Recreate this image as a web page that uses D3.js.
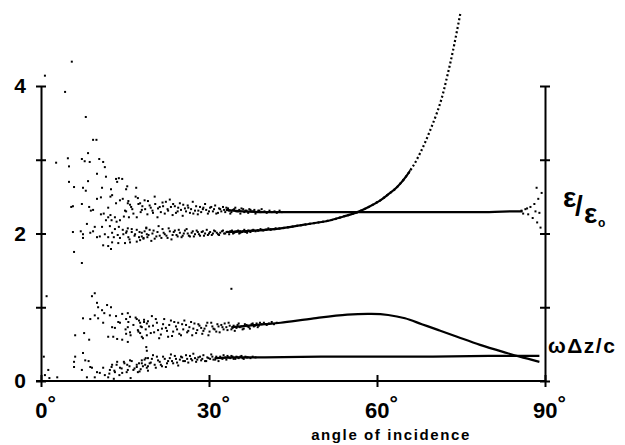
<!DOCTYPE html>
<html>
<head>
<meta charset="utf-8">
<script src="https://cdn.jsdelivr.net/npm/d3@7"></script>
<style>
  body { margin: 0; background: #fff; }
  svg { display: block; }
  text { font-family: "Liberation Sans", Arial, Helvetica, sans-serif; font-weight: bold; fill: #000; }
</style>
</head>
<body>
<svg id="chart" width="625" height="445"></svg>
<script>
// tick values
const angleTicks = [0, 30, 60, 90];
const valueTicks = [0, 1, 2, 3, 4];
const valueLabels = {0: "0", 2: "2", 4: "4"};

// converged branches, [angle in degrees, value]
const epsFlat = [[33,2.32],[36,2.30],[40,2.29],[50,2.29],[60,2.29],[70,2.29],[80,2.29],[84,2.30],[86,2.30]];
const epsRise = [[33,2.02],[36,2.03],[40,2.05],[42.8,2.07],[47,2.12],[51.7,2.18],[54,2.23],[56.5,2.29],[58.5,2.36],[60.6,2.45],[62,2.53],[63.6,2.63],[66,2.86],[67.7,3.09],[69.5,3.40],[71.3,3.77],[72.5,4.12],[73.6,4.49],[74.9,4.99]];
const wUpper = [[34,0.73],[37,0.75],[40,0.77],[42.8,0.79],[48.7,0.85],[54.7,0.90],[59,0.91],[62,0.895],[65,0.85],[68,0.77],[71,0.69],[74.3,0.60],[78.4,0.49],[83.2,0.38],[85.5,0.33],[89,0.26]];
const wFlat = [[31,0.31],[35,0.32],[40,0.32],[50,0.33],[60,0.33],[70,0.33],[80,0.34],[89,0.34]];

// scattered points of the eps/eps0 cloud
const epsScatter = [[0.7,4.14],[5.5,4.33],[4.3,3.92],[8.0,3.58],[9.3,3.27],[9.9,3.27],[2.7,2.96],[4.8,3.02],[5.0,2.91],[7.3,3.01],[7.8,2.98],[8.4,3.09],[8.7,2.97],[10.4,3.01],[11.1,2.97],[11.4,2.90],[5.0,2.70],[5.9,2.63],[8.4,2.71],[7.5,2.62],[8.0,2.58],[10.0,2.81],[11.6,2.77],[10.9,2.62],[12.5,2.60],[13.4,2.74],[13.9,2.75],[14.5,2.74],[13.6,2.70],[15.4,2.64],[15.2,2.60],[17.0,2.62],[5.4,2.36],[5.7,2.37],[7.3,2.40],[8.6,2.36],[8.9,2.31],[9.3,2.32],[10.0,2.47],[10.7,2.49],[12.0,2.35],[12.7,2.52],[12.4,2.50],[13.4,2.41],[14.1,2.45],[14.6,2.47],[15.5,2.41],[15.9,2.39],[16.3,2.33],[15.0,2.31],[17.3,2.48],[17.7,2.41],[18.0,2.32],[10.7,2.26],[11.2,2.27],[12.0,2.22],[12.4,2.25],[13.2,2.22],[14.1,2.18],[14.8,2.23],[15.7,2.22],[17.1,2.22],[11.6,2.18],[12.6,2.18],[13.5,2.16],[9.6,2.09],[10.9,2.09],[8.2,2.13],[12.3,2.10],[13.2,2.06],[13.9,2.09],[14.6,2.05],[15.5,2.07],[16.2,2.02],[17.1,2.05],[18.0,2.01],[18.8,2.07],[5.7,2.02],[7.1,2.03],[7.5,1.99],[7.5,1.94],[8.8,2.01],[9.3,2.03],[10.0,1.95],[10.5,1.96],[11.4,1.99],[12.0,1.95],[12.7,2.01],[13.0,1.95],[13.7,1.98],[14.1,1.94],[14.7,1.99],[15.2,2.01],[15.6,1.95],[15.9,1.88],[16.8,1.99],[17.5,1.95],[17.7,1.91],[18.3,1.94],[18.9,1.99],[12.7,1.88],[11.1,1.84],[12.0,1.83],[12.5,1.79],[13.8,1.87],[15.0,1.87],[5.9,1.75],[7.3,1.60],
  [85.8,2.31],[86.1,2.27],[86.5,2.33],[86.8,2.34],[87.0,2.26],[87.4,2.36],[87.8,2.21],[88.1,2.40],[88.3,2.30],[88.5,2.62],[88.6,2.15],[88.8,2.47],[89.0,2.28],[89.2,2.08],[89.4,2.55]];
const epsBandUpper = [[18.5,2.45],[19.0,2.26],[19.4,2.38],[19.9,2.31],[20.3,2.50],[20.8,2.22],[21.2,2.36],[21.7,2.42],[22.1,2.27],[22.6,2.33],[23.0,2.46],[23.5,2.25],[23.9,2.37],[24.4,2.30],[24.8,2.41],[25.3,2.24],[25.7,2.34],[26.2,2.38],[26.6,2.28],[27.1,2.43],[27.5,2.31],[28.0,2.26],[28.4,2.36],[28.9,2.33],[29.3,2.40],[29.8,2.27],[30.2,2.35],[30.7,2.30],[31.1,2.38],[31.6,2.28],[32.0,2.33],[32.5,2.36],[32.9,2.29],[33.4,2.34],[33.8,2.27],[34.3,2.32],[34.7,2.35],[35.2,2.30],[35.6,2.27],[36.1,2.33],[36.5,2.31],[37.0,2.28],[37.4,2.32],[37.9,2.30],[38.3,2.27],[38.8,2.31],[39.2,2.29],
  [15.2,2.30],[15.6,2.44],[16.1,2.36],[16.5,2.27],[16.9,2.50],[17.4,2.40],[17.8,2.29],[18.1,2.37],[18.6,2.33],[19.1,2.44],[19.6,2.35],[20.0,2.28],[20.4,2.40],[20.9,2.34],[21.4,2.29],[21.8,2.37],[22.3,2.43],[22.7,2.31],[23.2,2.36],[23.6,2.40],[24.1,2.28],[24.5,2.35],[25.0,2.32],[25.4,2.39],[25.9,2.30],[26.3,2.35],[26.8,2.33],[27.2,2.27],[27.7,2.37],[28.1,2.31],[28.6,2.29],[29.0,2.35],[29.5,2.32],[30.0,2.30],[30.4,2.36],[30.9,2.33],[31.3,2.27],[31.8,2.34],[32.2,2.30],[32.7,2.32],[33.1,2.35],[33.6,2.31],[34.0,2.29],[34.5,2.33],[34.9,2.30],[35.4,2.32],[35.8,2.34],[36.3,2.29],[36.7,2.31],[37.2,2.33],[37.6,2.30],[38.1,2.32],[38.5,2.29],[39.0,2.31],[39.4,2.33],[39.9,2.30],[40.3,2.28],[40.8,2.31],[41.2,2.29],[41.7,2.30],[42.1,2.28],[42.6,2.31],[43.0,2.29]];
const epsBandLower = [[18.3,1.93],[18.8,2.08],[19.2,1.98],[19.7,1.90],[20.1,2.04],[20.6,1.96],[21.0,2.10],[21.5,1.94],[21.9,2.01],[22.4,1.97],[22.8,2.07],[23.3,1.92],[23.7,2.02],[24.2,1.98],[24.6,2.05],[25.1,1.95],[25.5,2.00],[26.0,2.06],[26.4,1.97],[26.9,2.01],[27.3,1.96],[27.8,2.04],[28.2,1.99],[28.7,2.02],[29.1,1.97],[29.6,2.05],[30.0,2.00],[30.5,1.98],[30.9,2.04],[31.4,2.01],[31.8,1.98],[32.3,2.03],[32.7,2.00],[33.2,2.02],[33.6,1.99],[34.1,2.04],[34.5,2.01],[35.0,2.03],[35.4,2.00],[35.9,2.02],[36.3,2.05],[36.8,2.01],[37.2,2.03],[37.7,2.04],
  [15.3,2.03],[15.8,1.92],[16.2,2.06],[16.7,1.97],[17.1,1.89],[17.6,2.02],[18.0,1.96],[18.5,2.03],[19.0,1.95],[19.4,2.05],[19.9,2.00],[20.3,1.93],[20.8,2.02],[21.2,1.97],[21.7,2.06],[22.1,1.99],[22.6,1.94],[23.0,2.03],[23.5,1.98],[23.9,2.04],[24.4,1.96],[24.8,2.01],[25.3,1.97],[25.7,2.04],[26.2,2.00],[26.6,1.96],[27.1,2.03],[27.5,1.99],[28.0,2.02],[28.4,1.97],[28.9,2.03],[29.3,2.00],[29.8,1.98],[30.2,2.02],[30.7,2.00],[31.1,2.03],[31.6,1.99],[32.0,2.01],[32.5,2.04],[32.9,2.00],[33.4,2.02],[33.8,2.03],[34.3,2.00],[34.7,2.02],[35.2,2.04],[35.6,2.01],[36.1,2.03],[36.5,2.02],[37.0,2.04],[37.4,2.02],[37.9,2.05],[38.3,2.03],[38.8,2.04],[39.2,2.06],[39.7,2.04],[40.1,2.05],[40.6,2.07],[41.0,2.05],[41.5,2.06],[41.9,2.07]];

// scattered points of the omega dz / c cloud
const wScatter = [[1.0,1.15],[34.0,1.25],[0.5,0.33],[1.3,0.15],[0.7,0.08],[2.9,0.05],[1.5,0.04],[9.1,1.15],[9.6,1.19],[10.0,1.06],[10.2,1.00],[10.9,0.96],[11.8,1.03],[12.5,1.00],[11.3,0.92],[12.3,0.89],[9.6,0.89],[10.2,0.85],[7.5,0.85],[8.8,0.84],[11.1,0.79],[13.4,0.88],[13.8,0.80],[14.5,0.91],[15.5,0.92],[15.9,0.87],[15.2,0.84],[17.1,0.84],[17.5,0.82],[17.7,0.79],[18.4,0.80],[18.9,0.78],[12.7,0.73],[13.2,0.72],[14.1,0.79],[15.5,0.73],[15.9,0.66],[17.3,0.69],[18.0,0.73],[12.0,0.60],[12.9,0.60],[13.6,0.57],[14.5,0.56],[15.2,0.64],[15.5,0.53],[17.7,0.65],[18.0,0.60],[18.8,0.46],[18.9,0.41],[19.1,0.31],[6.1,0.62],[7.7,0.65],[8.6,0.56],[7.5,0.38],[6.1,0.33],[5.9,0.26],[7.9,0.28],[8.5,0.27],[5.9,0.19],[7.3,0.15],[8.8,0.19],[9.1,0.18],[8.2,0.05],[9.6,0.05],[10.0,0.12],[10.5,0.11],[11.1,0.18],[11.4,0.08],[12.0,0.05],[12.3,0.15],[12.7,0.22],[13.2,0.12],[13.6,0.26],[14.1,0.18],[14.5,0.11],[14.8,0.26],[15.4,0.22],[15.5,0.15],[15.9,0.28],[16.5,0.15],[17.1,0.19],[17.5,0.24],[17.8,0.16],[18.0,0.28],[18.6,0.22],[19.1,0.20],[17.3,0.12],[16.0,0.04],[13.0,0.03]];
const wBandUpper = [[18.4,0.83],[18.9,0.62],[19.3,0.74],[19.8,0.88],[20.2,0.66],[20.7,0.79],[21.1,0.58],[21.6,0.71],[22.0,0.84],[22.5,0.68],[22.9,0.76],[23.4,0.61],[23.8,0.80],[24.3,0.70],[24.7,0.64],[25.2,0.77],[25.6,0.82],[26.1,0.66],[26.5,0.73],[27.0,0.62],[27.4,0.78],[27.9,0.69],[28.3,0.75],[28.8,0.64],[29.2,0.71],[29.7,0.79],[30.1,0.67],[30.6,0.74],[31.0,0.70],[31.5,0.77],[31.9,0.66],[32.4,0.73],[32.8,0.78],[33.3,0.69],[33.7,0.75],[34.2,0.72],[34.6,0.68],[35.1,0.76],[35.5,0.73],[36.0,0.70],[36.4,0.77],[36.9,0.74],[37.3,0.71],[37.8,0.78],[38.2,0.75],[38.7,0.73],[39.1,0.79],
  [15.1,0.70],[15.6,0.80],[16.0,0.62],[16.5,0.76],[16.9,0.86],[17.4,0.67],[17.8,0.74],[18.2,0.58],[18.7,0.70],[19.1,0.81],[19.6,0.65],[20.0,0.75],[20.5,0.84],[20.9,0.69],[21.4,0.63],[21.8,0.77],[22.3,0.72],[22.7,0.60],[23.2,0.82],[23.6,0.67],[24.1,0.74],[24.5,0.79],[25.0,0.62],[25.4,0.70],[25.9,0.76],[26.3,0.68],[26.8,0.80],[27.2,0.71],[27.7,0.65],[28.1,0.77],[28.6,0.72],[29.0,0.68],[29.5,0.75],[29.9,0.62],[30.4,0.79],[30.8,0.71],[31.3,0.67],[31.7,0.74],[32.2,0.76],[32.6,0.70],[33.1,0.73],[33.5,0.79],[34.0,0.70],[34.4,0.75],[34.9,0.72],[35.3,0.78],[35.8,0.74],[36.2,0.71],[36.7,0.76],[37.1,0.73],[37.6,0.77],[38.0,0.74],[38.5,0.78],[38.9,0.75],[39.4,0.77],[39.8,0.79],[40.3,0.76],[40.7,0.78],[41.2,0.80],[41.6,0.77],[42.1,0.79]];
const wBandLower = [[18.2,0.20],[18.7,0.31],[19.1,0.14],[19.6,0.25],[20.0,0.35],[20.5,0.18],[20.9,0.28],[21.4,0.22],[21.8,0.33],[22.3,0.19],[22.7,0.27],[23.2,0.36],[23.6,0.24],[24.1,0.30],[24.5,0.21],[25.0,0.33],[25.4,0.27],[25.9,0.35],[26.3,0.25],[26.8,0.30],[27.2,0.37],[27.7,0.26],[28.1,0.32],[28.6,0.28],[29.0,0.35],[29.5,0.27],[29.9,0.31],[30.4,0.36],[30.8,0.29],[31.3,0.33],[31.7,0.27],[32.2,0.31],[32.6,0.35],[33.1,0.29],[33.5,0.32],[34.0,0.34],[34.4,0.30],[34.9,0.33],[35.3,0.31],[35.8,0.34],[36.2,0.30],[36.7,0.32],
  [12.2,0.10],[12.6,0.19],[13.1,0.14],[13.5,0.22],[14.0,0.08],[14.4,0.17],[14.9,0.24],[15.3,0.12],[15.8,0.20],[16.2,0.27],[16.7,0.17],[17.1,0.22],[17.6,0.13],[18.0,0.24],[18.5,0.29],[18.9,0.18],[19.4,0.24],[19.8,0.30],[20.3,0.22],[20.7,0.33],[21.2,0.26],[21.6,0.20],[22.1,0.30],[22.5,0.24],[23.0,0.31],[23.4,0.27],[23.9,0.34],[24.3,0.25],[24.8,0.29],[25.2,0.32],[25.7,0.27],[26.1,0.30],[26.6,0.34],[27.0,0.28],[27.5,0.31],[27.9,0.29],[28.4,0.33],[28.8,0.30],[29.3,0.27],[29.7,0.32],[30.2,0.30],[30.6,0.33],[31.1,0.29],[31.5,0.31],[32.0,0.33],[32.4,0.30],[32.9,0.32],[33.3,0.34],[33.8,0.31],[34.2,0.33],[34.7,0.30],[35.1,0.32],[35.6,0.33],[36.0,0.31],[36.5,0.33],[36.9,0.32],[37.4,0.31],[37.8,0.33],[38.3,0.32]];

const svg = d3.select("#chart");
const x = d3.scaleLinear().domain([0, 90]).range([41, 545]);
const y = d3.scaleLinear().domain([0, 4]).range([381, 86]);

// axes
const gLeft = svg.append("g")
  .attr("transform", `translate(${x(0)},0)`)
  .call(d3.axisLeft(y).tickValues(valueTicks).tickSizeInner(5).tickSizeOuter(0).tickPadding(10)
    .tickFormat(d => valueLabels[d] || ""));
gLeft.attr("font-size", 21).attr("font-family", null);
gLeft.selectAll(".tick line").attr("x1", 5).attr("stroke-width", 2);
gLeft.select(".domain").attr("stroke-width", 2);

const gRight = svg.append("g")
  .attr("transform", `translate(${x(90)},0)`)
  .call(d3.axisRight(y).tickValues(valueTicks).tickSizeInner(5).tickSizeOuter(0).tickFormat(""));
gRight.selectAll(".tick line").attr("x1", -5).attr("stroke-width", 2);
gRight.select(".domain").attr("stroke-width", 2);

const gBottom = svg.append("g")
  .attr("transform", `translate(0,${y(0)})`)
  .call(d3.axisBottom(x).tickValues(angleTicks).tickSizeInner(6).tickSizeOuter(0).tickPadding(15));
gBottom.attr("font-size", 22).attr("font-family", null);
gBottom.selectAll(".tick line").attr("y1", -6).attr("stroke-width", 2);
gBottom.select(".domain").attr("stroke-width", 2).attr("d", `M36,0H${x(90)}`);
gBottom.selectAll(".tick text").attr("dx", 4)
  .append("tspan").attr("font-size", 21).attr("dy", -8).text("°");

svg.append("text")
  .attr("x", 391).attr("y", 440)
  .attr("text-anchor", "middle")
  .attr("font-size", 15)
  .attr("letter-spacing", 1.6)
  .text("angle of incidence");

// curves
const line = d3.line().x(d => x(d[0])).y(d => y(d[1])).curve(d3.curveCatmullRom);
const curves = svg.append("g").attr("fill", "none").attr("stroke", "#000");
[epsFlat, wUpper, wFlat].forEach(c => {
  curves.append("path").attr("d", line(c)).attr("stroke-width", 2.2);
});
// rising branch: dense (solid) up to ~66 deg, separate dots further up
svg.append("clipPath").attr("id", "denseClip")
  .append("rect").attr("x", 0).attr("y", 0).attr("width", x(66)).attr("height", 445);
curves.append("path").attr("d", line(epsRise)).attr("stroke-width", 2.2).attr("clip-path", "url(#denseClip)");
curves.append("path").attr("d", line(epsRise))
  .attr("stroke-width", 2.2).attr("stroke-dasharray", "2 2.4");

// scattered dots
const dots = [].concat(epsScatter, epsBandUpper, epsBandLower, wScatter, wBandUpper, wBandLower);
svg.append("g").selectAll("rect")
  .data(dots)
  .join("rect")
  .attr("x", d => x(d[0]) - 1)
  .attr("y", d => y(d[1]) - 1)
  .attr("width", 2)
  .attr("height", 2)
  .attr("fill", "#000");

// series labels at the right
const epsLabel = svg.append("g");
epsLabel.append("text").attr("x", 563).attr("y", 207).attr("font-size", 28).text("ε");
epsLabel.append("text").attr("x", 575).attr("y", 215).attr("font-size", 28).text("/");
epsLabel.append("text").attr("x", 584).attr("y", 223).attr("font-size", 28).text("ε");
epsLabel.append("text").attr("x", 598).attr("y", 227).attr("font-size", 12).text("o");

svg.append("text")
  .attr("x", 548).attr("y", 353)
  .attr("font-size", 21)
  .attr("letter-spacing", 1.5)
  .text("ωΔz/c");
</script>
</body>
</html>
